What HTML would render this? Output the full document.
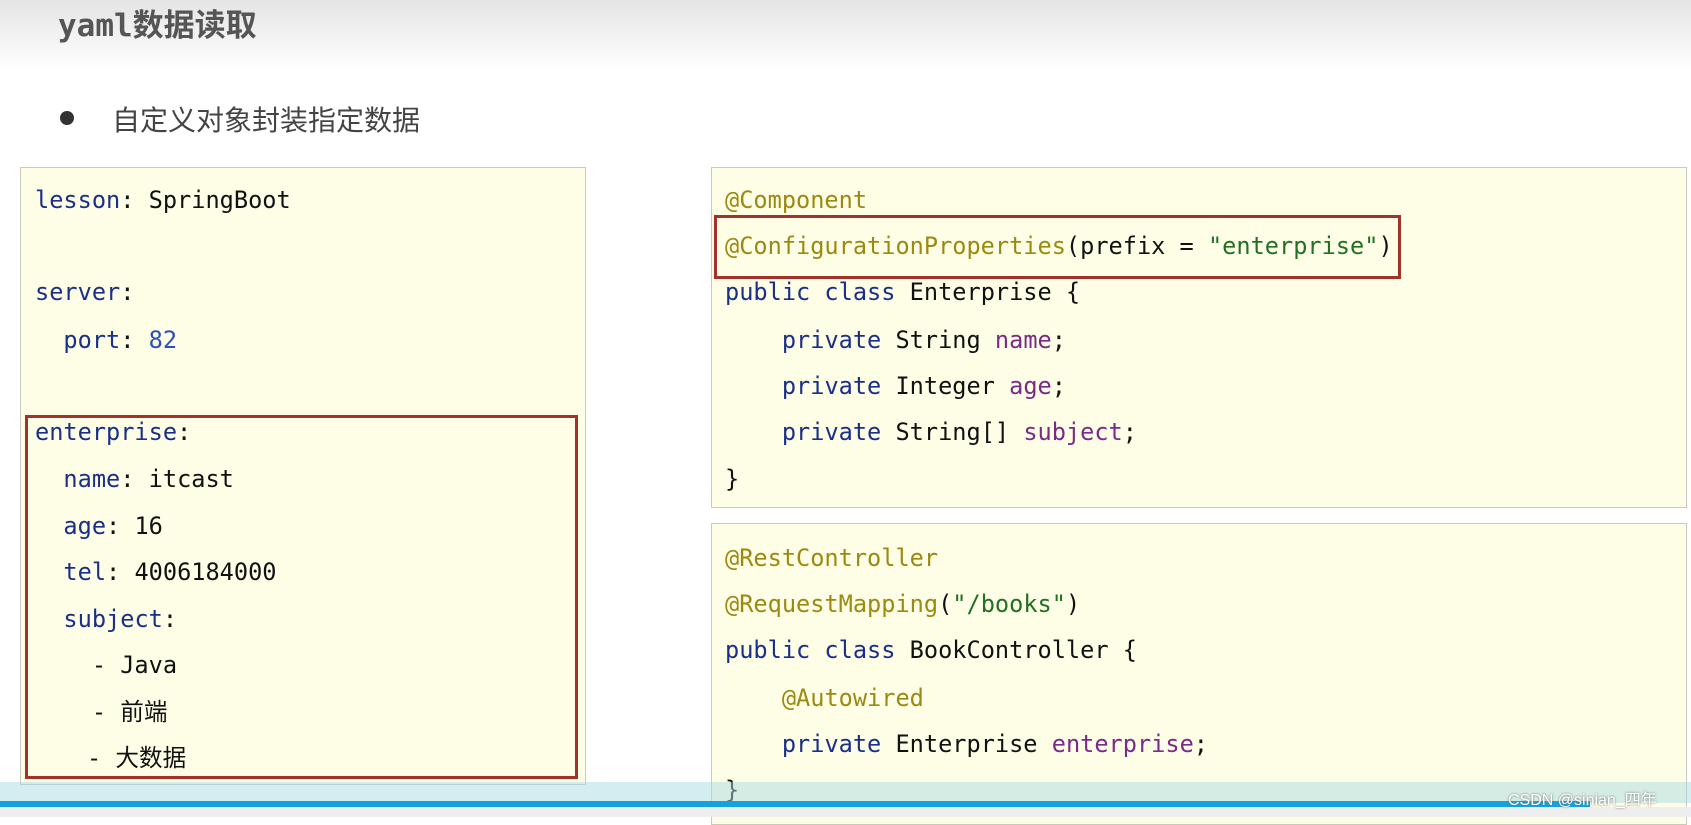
<!DOCTYPE html>
<html><head><meta charset="utf-8"><style>
body{margin:0;width:1691px;height:817px;overflow:hidden;background:#fff;position:relative;font-family:"Liberation Sans","Noto Sans CJK SC",sans-serif}
.hdr{position:absolute;left:0;top:0;width:1691px;height:70px;background:linear-gradient(#e4e4e4,#fff)}
.t{position:absolute;left:58px;top:0px;font-size:31px;font-weight:bold;color:#555;font-family:"DejaVu Sans Mono","Noto Sans CJK SC",sans-serif}
.b{position:absolute;left:60px;top:111px;width:14px;height:14px;border-radius:50%;background:#333}
.bt{position:absolute;left:112px;top:99px;font-size:28px;color:#444;font-family:"Noto Sans CJK SC",sans-serif}
.box{position:absolute;background:#fefde6;border:1px solid #c9c9c0}
.red{position:absolute;border:3px solid #a3332a}
.l{position:absolute;font-family:"DejaVu Sans Mono","Noto Sans CJK SC",monospace;font-size:23.6px;color:#111;white-space:pre;line-height:30px}
.k{color:#1a2f8a}.n{color:#2a4fbf}.a{color:#9c8a10}.s{color:#237023}.f{color:#7a2a88}
</style></head><body>
<div class="hdr"></div>
<div class="t">yaml数据读取</div>
<div class="b"></div><div class="bt">自定义对象封装指定数据</div>
<div class="box" style="left:20px;top:167px;width:564px;height:616px"></div>
<div class="red" style="left:25px;top:415px;width:547px;height:358px"></div>
<div class="box" style="left:711px;top:167px;width:974px;height:339px"></div>
<div class="red" style="left:714px;top:215px;width:681px;height:58px"></div>
<div class="box" style="left:711px;top:523px;width:974px;height:300px"></div>
<div class="l" style="left:35px;top:185px"><span class="k">lesson</span>: SpringBoot</div>
<div class="l" style="left:35px;top:277px"><span class="k">server</span>:</div>
<div class="l" style="left:35px;top:325px">  <span class="k">port</span>: <span class="n">82</span></div>
<div class="l" style="left:35px;top:417px"><span class="k">enterprise</span>:</div>
<div class="l" style="left:35px;top:464px">  <span class="k">name</span>: itcast</div>
<div class="l" style="left:35px;top:511px">  <span class="k">age</span>: 16</div>
<div class="l" style="left:35px;top:557px">  <span class="k">tel</span>: 4006184000</div>
<div class="l" style="left:35px;top:604px">  <span class="k">subject</span>:</div>
<div class="l" style="left:35px;top:650px">    - Java</div>
<div class="l" style="left:35px;top:697px">    - 前端</div>
<div class="l" style="left:87px;top:743px">- 大数据</div>
<div class="l" style="left:725px;top:185px"><span class="a">@Component</span></div>
<div class="l" style="left:725px;top:231px"><span class="a">@ConfigurationProperties</span>(prefix = <span class="s">"enterprise"</span>)</div>
<div class="l" style="left:725px;top:277px"><span class="k">public class</span> Enterprise {</div>
<div class="l" style="left:725px;top:325px">    <span class="k">private</span> String <span class="f">name</span>;</div>
<div class="l" style="left:725px;top:371px">    <span class="k">private</span> Integer <span class="f">age</span>;</div>
<div class="l" style="left:725px;top:417px">    <span class="k">private</span> String[] <span class="f">subject</span>;</div>
<div class="l" style="left:725px;top:464px">}</div>
<div class="l" style="left:725px;top:543px"><span class="a">@RestController</span></div>
<div class="l" style="left:725px;top:589px"><span class="a">@RequestMapping</span>(<span class="s">"/books"</span>)</div>
<div class="l" style="left:725px;top:635px"><span class="k">public class</span> BookController {</div>
<div class="l" style="left:725px;top:683px">    <span class="a">@Autowired</span></div>
<div class="l" style="left:725px;top:729px">    <span class="k">private</span> Enterprise <span class="f">enterprise</span>;</div>
<div class="l" style="left:725px;top:775px">}</div>
<div style="position:absolute;left:0;top:782px;width:1691px;height:21px;background:rgba(170,220,225,0.5)"></div>
<div style="position:absolute;left:0;top:801px;width:1590px;height:6px;background:#12a3de"></div>
<div style="position:absolute;left:0;top:807px;width:1691px;height:10px;background:#eee"></div>
<div style="position:absolute;left:1508px;top:786px;font-size:16px;color:#fff;text-shadow:0 0 2px #666">CSDN @sinian_四年</div>
</body></html>
